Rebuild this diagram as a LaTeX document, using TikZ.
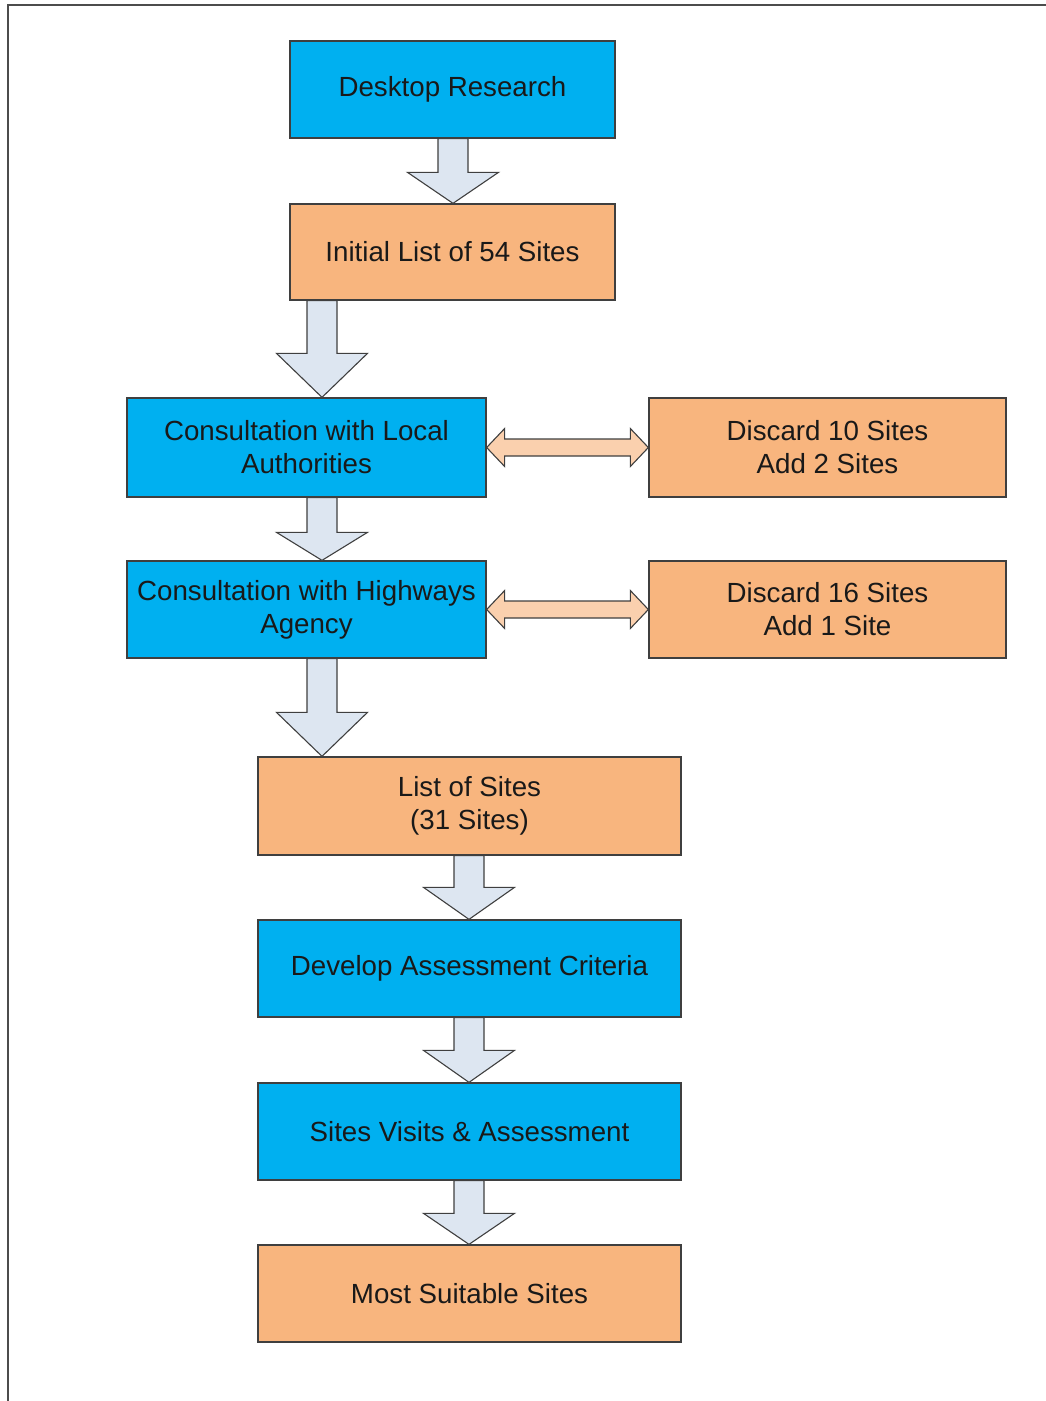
\documentclass[tikz,border=0pt]{standalone}
\usepackage{fontspec}
\setmainfont{Liberation Sans}
\usetikzlibrary{calc}
\definecolor{boxblue}{HTML}{00B0F0}
\definecolor{boxorange}{HTML}{F8B57E}
\definecolor{arrblue}{HTML}{DDE6F1}
\definecolor{arrpeach}{HTML}{FAD0AE}
\definecolor{edgegray}{HTML}{3F3F3F}
\tikzset{
  box/.style={draw=edgegray, line width=1.3pt, align=center, inner sep=0pt,
    font=\fontsize{27.7}{33}\selectfont, text=black!90},
  bluebox/.style={box, fill=boxblue},
  orangebox/.style={box, fill=boxorange},
  downarr/.style={draw=edgegray, line width=1.1pt, fill=arrblue, line join=miter},
  sidearr/.style={draw=edgegray, line width=1.1pt, fill=arrpeach, line join=miter},
}
\newcommand\blockdown[4]{% top node, bottom node, x centre, head length
  \path (#3,0) coordinate (ax);
  \path (#1.south -| ax) coordinate (at) (#2.north -| ax) coordinate (ab);
  \draw[downarr] ($(at)+(-15,0)$) -- ($(ab)+(-15,-#4)$) -- ($(ab)+(-45.5,-#4)$)
    -- (ab) -- ($(ab)+(45.5,-#4)$) -- ($(ab)+(15,-#4)$) -- ($(at)+(15,0)$) -- cycle;
}
\newcommand\blockboth[2]{% left node, right node
  \path (#1.east) coordinate (bl) (#2.west) coordinate (br);
  \draw[sidearr] (bl) -- ($(bl)+(18,-19)$) -- ($(bl)+(18,-8.5)$) -- ($(br)+(-18,-8.5)$)
    -- ($(br)+(-18,-19)$) -- (br) -- ($(br)+(-18,19)$) -- ($(br)+(-18,8.5)$)
    -- ($(bl)+(18,8.5)$) -- ($(bl)+(18,19)$) -- cycle;
}
\begin{document}
\begin{tikzpicture}[x=1pt,y=-1pt]
\useasboundingbox (0,0) rectangle (1046,1401);
\draw[line width=2pt, black!70] (8,1401) -- (8,5) -- (1046,5);

\node[bluebox, minimum width=325pt, minimum height=97pt] (desk) at (452.5,89.5) {Desktop Research};
\node[orangebox, minimum width=325pt, minimum height=96pt] (init) at (452.5,252) {Initial List of 54 Sites};
\node[bluebox, minimum width=359pt, minimum height=99pt] (local) at (306.5,447.5) {Consultation with Local\\Authorities};
\node[orangebox, minimum width=357pt, minimum height=99pt] (disc1) at (827.5,447.5) {Discard 10 Sites\\Add 2 Sites};
\node[bluebox, minimum width=359pt, minimum height=97pt] (high) at (306.5,609.5) {Consultation with Highways\\Agency};
\node[orangebox, minimum width=357pt, minimum height=97pt] (disc2) at (827.5,609.5) {Discard 16 Sites\\Add 1 Site};
\node[orangebox, minimum width=423pt, minimum height=98pt] (list) at (469.5,806) {List of Sites\\(31 Sites)};
\node[bluebox, minimum width=423pt, minimum height=97pt] (crit) at (469.5,968.5) {Develop Assessment Criteria};
\node[bluebox, minimum width=423pt, minimum height=97pt] (visit) at (469.5,1131.5) {Sites Visits \& Assessment};
\node[orangebox, minimum width=423pt, minimum height=97pt] (most) at (469.5,1293.5) {Most Suitable Sites};

\blockdown{desk}{init}{453}{31}
\blockdown{init}{local}{322}{44}
\blockdown{local}{high}{322}{28}
\blockdown{high}{list}{322}{44}
\blockdown{list}{crit}{469}{32}
\blockdown{crit}{visit}{469}{32}
\blockdown{visit}{most}{469}{31}

\blockboth{local}{disc1}
\blockboth{high}{disc2}
\end{tikzpicture}
\end{document}
